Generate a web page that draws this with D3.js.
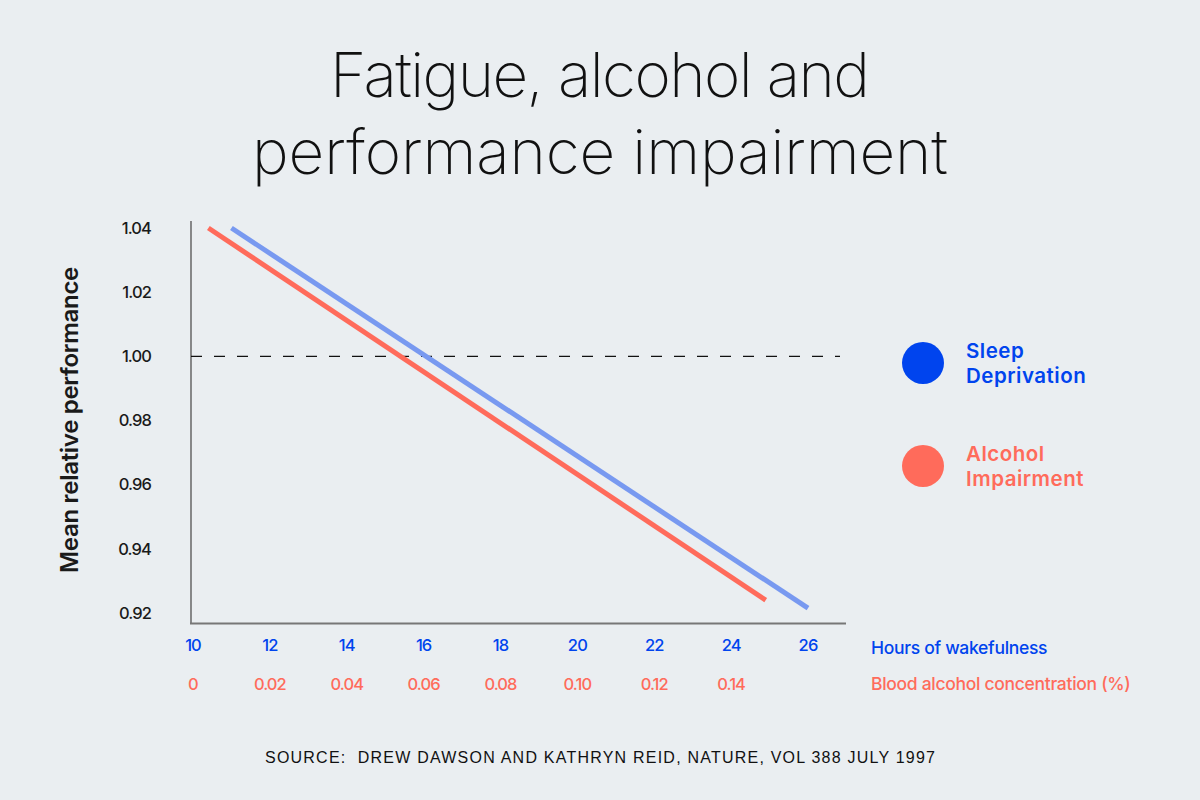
<!DOCTYPE html>
<html>
<head>
<meta charset="utf-8">
<script src="https://cdn.jsdelivr.net/npm/d3@7"></script>
<style>
  html, body { margin: 0; padding: 0; background: #eaeef1; }
  svg { display: block; }
</style>
</head>
<body>
<svg id="chart" width="1200" height="800"></svg>
<script>
const width = 1200;
const height = 800;

// data
const hourTicks = [10, 12, 14, 16, 18, 20, 22, 24, 26];
const bacTicks = [0, 0.02, 0.04, 0.06, 0.08, 0.10, 0.12, 0.14];
const perfTicks = [0.92, 0.94, 0.96, 0.98, 1.00, 1.02, 1.04];

const sleepHours = [11, 26];
const sleepPerf = [1.04, 0.9215];
const alcoholBac = [0.004, 0.149];
const alcoholPerf = [1.04, 0.924];

const blue = "#0044ee";
const blueLine = "#7899f0";
const red = "#ff6b5b";

const svg = d3.select("#chart");
svg.append("rect").attr("width", width).attr("height", height).attr("fill", "#eaeef1");

// title
const title = svg.append("text")
  .attr("x", 600)
  .attr("text-anchor", "middle")
  .style("font-family", "Inter, 'Liberation Sans', sans-serif")
  .style("font-weight", 200)
  .style("font-size", "62px")
  .attr("fill", "#111");
title.append("tspan").attr("x", 600).attr("y", 97)
  .attr("textLength", 540).attr("lengthAdjust", "spacing").text("Fatigue, alcohol and");
title.append("tspan").attr("x", 600).attr("y", 174)
  .attr("textLength", 696).attr("lengthAdjust", "spacing").text("performance impairment");

const x = d3.scaleLinear().domain([10, 26]).range([193, 808]);
const xBac = d3.scaleLinear().domain([0, 0.16]).range([193, 808]);
const y = d3.scaleLinear().domain([0.92, 1.04]).range([613, 228]);

// axes lines
svg.append("line").attr("x1", 191).attr("x2", 191).attr("y1", 221).attr("y2", 624)
  .attr("stroke", "#444").attr("stroke-width", 1.2);
svg.append("line").attr("x1", 190).attr("x2", 846).attr("y1", 623.5).attr("y2", 623.5)
  .attr("stroke", "#777").attr("stroke-width", 2);

// reference line at 1.00
svg.append("line")
  .attr("x1", 191).attr("x2", 840)
  .attr("y1", y(1)).attr("y2", y(1))
  .attr("stroke", "#111").attr("stroke-width", 1.2)
  .attr("stroke-dasharray", "11,12");

const tickFont = function(sel) {
  sel.style("font-family", "Inter, sans-serif")
    .style("font-weight", 500)
    .style("font-size", "16.5px")
    .style("letter-spacing", "-0.9px");
};

// y tick labels
svg.selectAll(".ylab")
  .data(perfTicks)
  .enter()
  .append("text")
  .attr("class", "ylab")
  .attr("x", 151)
  .attr("y", d => y(d))
  .attr("dy", "0.35em")
  .attr("text-anchor", "end")
  .call(tickFont)
  .attr("fill", "#1a1a1a")
  .text(d => d.toFixed(2));

// x tick labels (hours)
svg.selectAll(".hlab")
  .data(hourTicks)
  .enter()
  .append("text")
  .attr("class", "hlab")
  .attr("x", d => x(d))
  .attr("y", 651)
  .attr("text-anchor", "middle")
  .call(tickFont)
  .attr("fill", blue)
  .text(d => d);

// x tick labels (blood alcohol)
svg.selectAll(".blab")
  .data(bacTicks)
  .enter()
  .append("text")
  .attr("class", "blab")
  .attr("x", d => xBac(d))
  .attr("y", 690)
  .attr("text-anchor", "middle")
  .call(tickFont)
  .attr("fill", red)
  .text(d => d === 0 ? "0" : d.toFixed(2));

// axis names
svg.append("text").attr("x", 871).attr("y", 654)
  .style("font-family", "Inter, sans-serif").style("font-weight", 500).style("font-size", "17.5px")
  .style("letter-spacing", "-0.3px")
  .attr("fill", blue).text("Hours of wakefulness");
svg.append("text").attr("x", 871).attr("y", 690)
  .style("font-family", "Inter, sans-serif").style("font-weight", 500).style("font-size", "17.5px")
  .style("letter-spacing", "-0.3px")
  .attr("fill", red).text("Blood alcohol concentration (%)");

svg.append("text")
  .attr("transform", "translate(78,420) rotate(-90)")
  .attr("text-anchor", "middle")
  .style("font-family", "Inter, sans-serif")
  .style("font-weight", 600)
  .style("font-size", "24px")
  .style("letter-spacing", "-0.3px")
  .attr("fill", "#1a1a1a")
  .text("Mean relative performance");

// lines
const sleepPts = sleepHours.map((h, i) => [x(h), y(sleepPerf[i])]);
const alcoholPts = alcoholBac.map((b, i) => [xBac(b), y(alcoholPerf[i])]);
const line = d3.line();

svg.append("path").attr("d", line(alcoholPts))
  .attr("fill", "none").attr("stroke", red).attr("stroke-width", 5);
svg.append("path").attr("d", line(sleepPts))
  .attr("fill", "none").attr("stroke", blueLine).attr("stroke-width", 5);

// legend
const legend = [
  { lines: ["Sleep", "Deprivation"], color: blue, cy: 363 },
  { lines: ["Alcohol", "Impairment"], color: red, cy: 466 }
];
legend.forEach(function(l) {
  svg.append("circle").attr("cx", 923).attr("cy", l.cy).attr("r", 21).attr("fill", l.color);
  l.lines.forEach(function(s, i) {
    svg.append("text")
      .attr("x", 966).attr("y", l.cy - 5 + i * 25)
      .style("font-family", "Inter, sans-serif")
      .style("font-weight", 600)
      .style("font-size", "20.5px")
      .style("letter-spacing", "0.5px")
      .attr("fill", l.color)
      .text(s);
  });
});

// source
svg.append("text")
  .attr("x", 265).attr("y", 763)
  .style("font-family", "'Liberation Sans', Arial, sans-serif")
  .style("font-size", "16px")
  .attr("textLength", 670)
  .attr("lengthAdjust", "spacing")
  .attr("fill", "#111")
  .attr("xml:space", "preserve")
  .text("SOURCE:  DREW DAWSON AND KATHRYN REID, NATURE, VOL 388 JULY 1997");
</script>
</body>
</html>
